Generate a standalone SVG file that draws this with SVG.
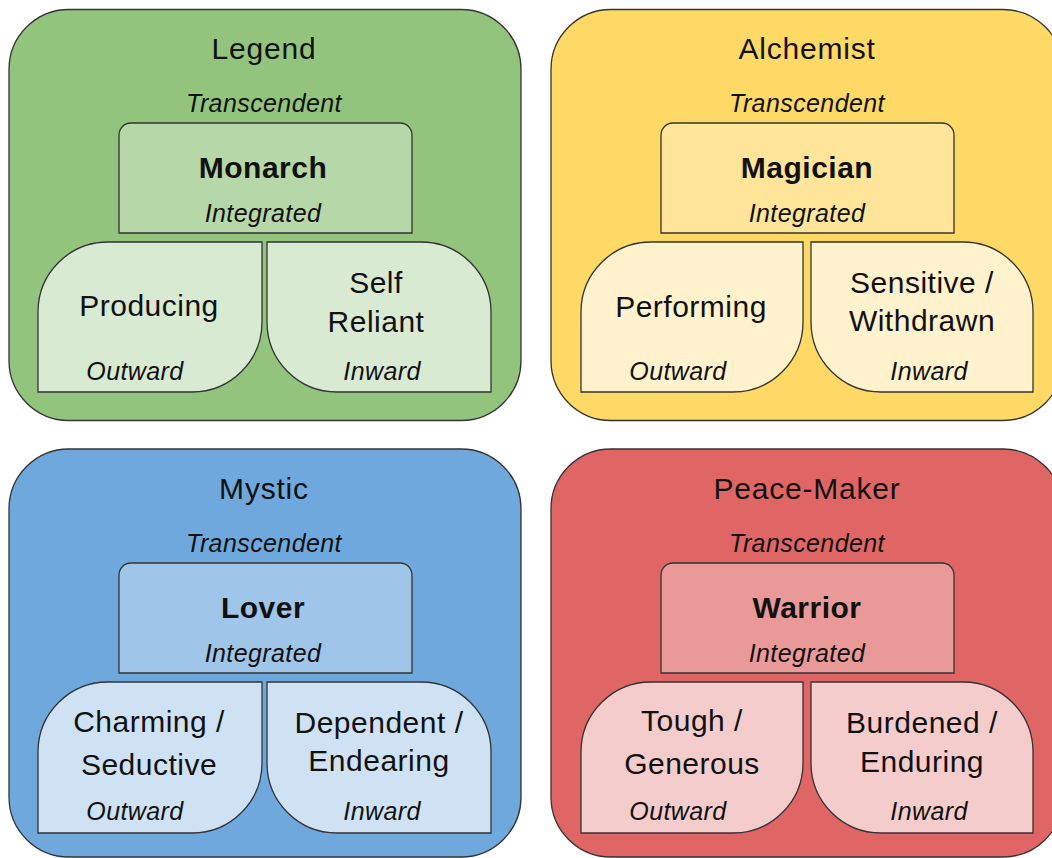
<svg xmlns="http://www.w3.org/2000/svg" width="1052" height="858" viewBox="0 0 1052 858">
<style>
.box{stroke:#333333;stroke-width:1.3}
.t{font-family:"Liberation Sans",Arial,sans-serif;fill:#111111;text-anchor:middle}
.title{font-size:30px;letter-spacing:0.8px}
.main{font-size:30px;font-weight:bold;letter-spacing:0.5px}
.lbl{font-size:30px;letter-spacing:0.5px}
.it{font-size:25px;font-style:italic;letter-spacing:0.4px}
.g0{fill:#93c47d}.g1{fill:#b6d7a8}.g2{fill:#d9ead3}
.y0{fill:#ffd966}.y1{fill:#ffe599}.y2{fill:#fff2cc}
.b0{fill:#6fa8dc}.b1{fill:#9fc5e8}.b2{fill:#cfe2f3}
.r0{fill:#e06666}.r1{fill:#ea9999}.r2{fill:#f4cccc}
</style>
<rect width="1052" height="858" fill="#ffffff"/>

<!-- Legend quadrant -->
<g id="legend">
<rect class="box g0" x="9" y="9.5" width="512" height="411" rx="60" ry="60"/>
<text class="t title" x="264" y="59">Legend</text>
<text class="t it" x="264" y="112">Transcendent</text>
</g>
<g id="monarch">
<path class="box g1" d="M119,233 L119,135 A12,12 0 0 1 131,123 L400,123 A12,12 0 0 1 412,135 L412,233 Z"/>
<text class="t main" x="263" y="178">Monarch</text>
<text class="t it" x="263" y="222">Integrated</text>
</g>
<g id="producing">
<path class="box g2" d="M38,392 L38,312 A70,70 0 0 1 108,242 L262,242 L262,322 A70,70 0 0 1 192,392 Z"/>
<text class="t lbl" x="149" y="316">Producing</text>
<text class="t it" x="135" y="380">Outward</text>
</g>
<g id="self-reliant">
<path class="box g2" d="M267,242 L421,242 A70,70 0 0 1 491,312 L491,392 L337,392 A70,70 0 0 1 267,322 Z"/>
<text class="t lbl" x="376" y="293">Self</text>
<text class="t lbl" x="376" y="332">Reliant</text>
<text class="t it" x="382" y="380">Inward</text>
</g>

<!-- Alchemist quadrant -->
<g id="alchemist">
<rect class="box y0" x="551" y="9.5" width="512" height="411" rx="60" ry="60"/>
<text class="t title" x="807" y="59">Alchemist</text>
<text class="t it" x="807" y="112">Transcendent</text>
</g>
<g id="magician">
<path class="box y1" d="M661,233 L661,135 A12,12 0 0 1 673,123 L942,123 A12,12 0 0 1 954,135 L954,233 Z"/>
<text class="t main" x="807" y="178">Magician</text>
<text class="t it" x="807" y="222">Integrated</text>
</g>
<g id="performing">
<path class="box y2" d="M581,392 L581,312 A70,70 0 0 1 651,242 L803,242 L803,322 A70,70 0 0 1 733,392 Z"/>
<text class="t lbl" x="691" y="317">Performing</text>
<text class="t it" x="678" y="380">Outward</text>
</g>
<g id="sensitive-withdrawn">
<path class="box y2" d="M811,242 L963,242 A70,70 0 0 1 1033,312 L1033,392 L881,392 A70,70 0 0 1 811,322 Z"/>
<text class="t lbl" x="922" y="293">Sensitive /</text>
<text class="t lbl" x="922" y="331">Withdrawn</text>
<text class="t it" x="929" y="380">Inward</text>
</g>

<!-- Mystic quadrant -->
<g id="mystic">
<rect class="box b0" x="9" y="449" width="512" height="408" rx="60" ry="60"/>
<text class="t title" x="264" y="499">Mystic</text>
<text class="t it" x="264" y="552">Transcendent</text>
</g>
<g id="lover">
<path class="box b1" d="M119,673 L119,575 A12,12 0 0 1 131,563 L400,563 A12,12 0 0 1 412,575 L412,673 Z"/>
<text class="t main" x="263" y="618">Lover</text>
<text class="t it" x="263" y="662">Integrated</text>
</g>
<g id="charming-seductive">
<path class="box b2" d="M38,833 L38,752 A70,70 0 0 1 108,682 L262,682 L262,763 A70,70 0 0 1 192,833 Z"/>
<text class="t lbl" x="149" y="732">Charming /</text>
<text class="t lbl" x="149" y="775">Seductive</text>
<text class="t it" x="135" y="820">Outward</text>
</g>
<g id="dependent-endearing">
<path class="box b2" d="M267,682 L421,682 A70,70 0 0 1 491,752 L491,833 L337,833 A70,70 0 0 1 267,763 Z"/>
<text class="t lbl" x="379" y="733">Dependent /</text>
<text class="t lbl" x="379" y="771">Endearing</text>
<text class="t it" x="382" y="820">Inward</text>
</g>

<!-- Peace-Maker quadrant -->
<g id="peace-maker">
<rect class="box r0" x="551" y="449" width="512" height="408" rx="60" ry="60"/>
<text class="t title" x="807" y="499">Peace-Maker</text>
<text class="t it" x="807" y="552">Transcendent</text>
</g>
<g id="warrior">
<path class="box r1" d="M661,673 L661,575 A12,12 0 0 1 673,563 L942,563 A12,12 0 0 1 954,575 L954,673 Z"/>
<text class="t main" x="807" y="618">Warrior</text>
<text class="t it" x="807" y="662">Integrated</text>
</g>
<g id="tough-generous">
<path class="box r2" d="M581,833 L581,752 A70,70 0 0 1 651,682 L803,682 L803,763 A70,70 0 0 1 733,833 Z"/>
<text class="t lbl" x="692" y="731">Tough /</text>
<text class="t lbl" x="692" y="774">Generous</text>
<text class="t it" x="678" y="820">Outward</text>
</g>
<g id="burdened-enduring">
<path class="box r2" d="M811,682 L963,682 A70,70 0 0 1 1033,752 L1033,833 L881,833 A70,70 0 0 1 811,763 Z"/>
<text class="t lbl" x="922" y="733">Burdened /</text>
<text class="t lbl" x="922" y="772">Enduring</text>
<text class="t it" x="929" y="820">Inward</text>
</g>

<g id="connectors"/>
</svg>
